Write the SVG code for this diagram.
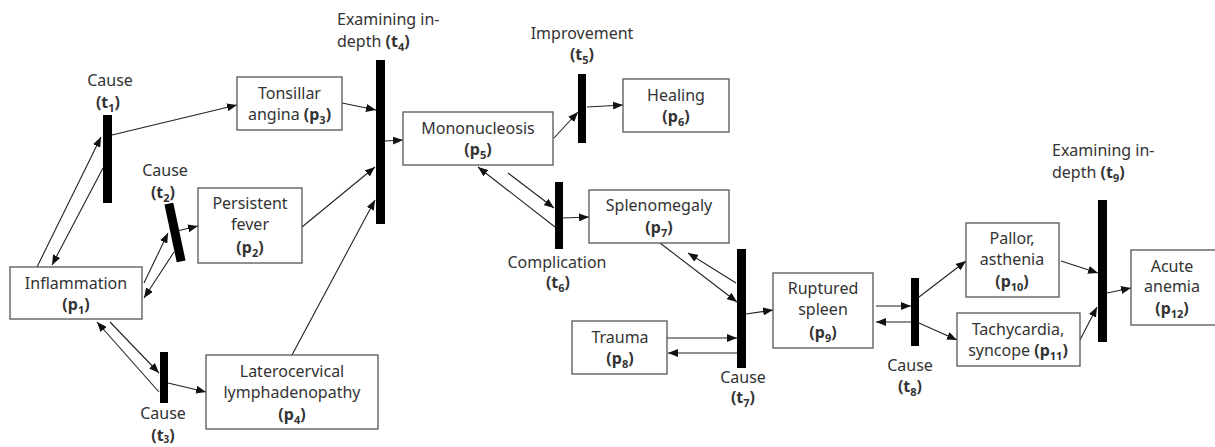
<svg xmlns="http://www.w3.org/2000/svg" width="1215" height="447" viewBox="0 0 1215 447">
<style>
.box{fill:#fff;stroke:#555;stroke-width:1.3}
.bar{fill:#000}
text{font-family:"Noto Sans","Open Sans",sans-serif;font-size:16px;fill:#333}
.c{text-anchor:middle}
.b{font-weight:bold}
.e{stroke:#222;stroke-width:1.1;fill:none;marker-end:url(#ah)}
</style>
<defs>
<marker id="ah" viewBox="0 0 10 8" refX="10" refY="4" markerWidth="10" markerHeight="8" markerUnits="userSpaceOnUse" orient="auto">
<path d="M0,0 L10,4 L0,8 z" fill="#111"/>
</marker>
</defs>
<g id="connectors">
<line class="e" x1="37" y1="267" x2="101" y2="137"/>
<line class="e" x1="103" y1="168" x2="52" y2="265"/>
<line class="e" x1="112" y1="135" x2="237" y2="105"/>
<line class="e" x1="144" y1="283" x2="168" y2="233"/>
<line class="e" x1="174" y1="252" x2="144" y2="298"/>
<line class="e" x1="177" y1="231" x2="198" y2="226"/>
<line class="e" x1="110" y1="322" x2="159" y2="373"/>
<line class="e" x1="159" y1="392" x2="97" y2="322"/>
<line class="e" x1="168" y1="383" x2="206" y2="392"/>
<line class="e" x1="342" y1="103" x2="376" y2="110"/>
<line class="e" x1="302" y1="227" x2="375" y2="167"/>
<line class="e" x1="292" y1="355" x2="375" y2="200"/>
<line class="e" x1="385" y1="141" x2="403" y2="140"/>
<line class="e" x1="554" y1="138" x2="578" y2="112"/>
<line class="e" x1="587" y1="107" x2="623" y2="105"/>
<line class="e" x1="508" y1="173" x2="554" y2="208"/>
<line class="e" x1="555" y1="227" x2="478" y2="167"/>
<line class="e" x1="563" y1="218" x2="589" y2="217"/>
<line class="e" x1="660" y1="243" x2="737" y2="302"/>
<line class="e" x1="736" y1="283" x2="688" y2="253"/>
<line class="e" x1="746" y1="314" x2="773" y2="310"/>
<line class="e" x1="667" y1="338" x2="737" y2="338"/>
<line class="e" x1="737" y1="353" x2="668" y2="353"/>
<line class="e" x1="876" y1="306" x2="911" y2="306"/>
<line class="e" x1="911" y1="322" x2="876" y2="322"/>
<line class="e" x1="919" y1="297" x2="966" y2="261"/>
<line class="e" x1="919" y1="323" x2="957" y2="340"/>
<line class="e" x1="1061" y1="261" x2="1098" y2="273"/>
<line class="e" x1="1080" y1="340" x2="1097" y2="307"/>
<line class="e" x1="1107" y1="293" x2="1131" y2="288"/>
</g>
<g id="t1"><rect class="bar" x="103" y="115" width="9" height="88"/>
<text class="c" x="110" y="86">Cause</text><text class="c b" x="108" y="108">(t<tspan font-size="11" dy="4">1</tspan><tspan dy="-4">)</tspan></text></g>
<g id="t2"><rect class="bar" x="170.5" y="203" width="9" height="59" transform="rotate(-12 175 232.5)"/>
<text class="c" x="165" y="176">Cause</text><text class="c b" x="163" y="198">(t<tspan font-size="11" dy="4">2</tspan><tspan dy="-4">)</tspan></text></g>
<g id="t3"><rect class="bar" x="160" y="352" width="8" height="51"/>
<text class="c" x="163" y="419">Cause</text><text class="c b" x="163" y="441">(t<tspan font-size="10" dy="2">3</tspan><tspan dy="-2">)</tspan></text></g>
<g id="t4"><rect class="bar" x="376" y="60" width="9" height="164"/>
<text x="337" y="25">Examining in-</text><text x="337" y="47">depth <tspan class="b">(t<tspan font-size="11" dy="4">4</tspan><tspan dy="-4">)</tspan></tspan></text></g>
<g id="t5"><rect class="bar" x="578" y="74" width="8" height="69"/>
<text class="c" x="582" y="39">Improvement</text><text class="c b" x="582" y="60">(t<tspan font-size="11" dy="4">5</tspan><tspan dy="-4">)</tspan></text></g>
<g id="t6"><rect class="bar" x="555" y="182" width="8" height="67"/>
<text class="c" x="557" y="268">Complication</text><text class="c b" x="558" y="288">(t<tspan font-size="11" dy="4">6</tspan><tspan dy="-4">)</tspan></text></g>
<g id="t7"><rect class="bar" x="737" y="249" width="9" height="119"/>
<text class="c" x="743" y="383">Cause</text><text class="c b" x="743" y="403">(t<tspan font-size="11" dy="4">7</tspan><tspan dy="-4">)</tspan></text></g>
<g id="t8"><rect class="bar" x="911" y="278" width="8" height="68"/>
<text class="c" x="910" y="371">Cause</text><text class="c b" x="910" y="392">(t<tspan font-size="11" dy="4">8</tspan><tspan dy="-4">)</tspan></text></g>
<g id="t9"><rect class="bar" x="1098" y="200" width="9" height="142"/>
<text x="1052" y="156">Examining in-</text><text x="1052" y="178">depth <tspan class="b">(t<tspan font-size="11" dy="4">9</tspan><tspan dy="-4">)</tspan></tspan></text></g>
<g id="p1"><rect class="box" x="10" y="267" width="132" height="52"/>
<text class="c" x="76" y="289">Inflammation</text><text class="c b" x="76" y="310">(p<tspan font-size="11" dy="4">1</tspan><tspan dy="-4">)</tspan></text></g>
<g id="p2"><rect class="box" x="198" y="188" width="104" height="75"/>
<text class="c" x="250" y="209">Persistent</text><text class="c" x="250" y="230">fever</text><text class="c b" x="250" y="253">(p<tspan font-size="11" dy="4">2</tspan><tspan dy="-4">)</tspan></text></g>
<g id="p3"><rect class="box" x="237" y="77" width="105" height="53"/>
<text class="c" x="289.5" y="99">Tonsillar</text><text class="c" x="289.5" y="120">angina <tspan class="b">(p<tspan font-size="11" dy="4">3</tspan><tspan dy="-4">)</tspan></tspan></text></g>
<g id="p4"><rect class="box" x="206" y="355" width="172" height="74"/>
<text class="c" x="292" y="377">Laterocervical</text><text class="c" x="292" y="398">lymphadenopathy</text><text class="c b" x="292" y="420">(p<tspan font-size="11" dy="4">4</tspan><tspan dy="-4">)</tspan></text></g>
<g id="p5"><rect class="box" x="403" y="112" width="150" height="53"/>
<text class="c" x="478" y="134">Mononucleosis</text><text class="c b" x="478" y="155">(p<tspan font-size="11" dy="4">5</tspan><tspan dy="-4">)</tspan></text></g>
<g id="p6"><rect class="box" x="623" y="79" width="106" height="53"/>
<text class="c" x="676" y="101">Healing</text><text class="c b" x="676" y="122">(p<tspan font-size="11" dy="4">6</tspan><tspan dy="-4">)</tspan></text></g>
<g id="p7"><rect class="box" x="589" y="190" width="140" height="53"/>
<text class="c" x="659" y="211">Splenomegaly</text><text class="c b" x="659" y="233">(p<tspan font-size="11" dy="4">7</tspan><tspan dy="-4">)</tspan></text></g>
<g id="p8"><rect class="box" x="572" y="321" width="95" height="53"/>
<text class="c" x="620" y="343">Trauma</text><text class="c b" x="620" y="364">(p<tspan font-size="11" dy="4">8</tspan><tspan dy="-4">)</tspan></text></g>
<g id="p9"><rect class="box" x="773" y="273" width="100" height="75"/>
<text class="c" x="823" y="294">Ruptured</text><text class="c" x="823" y="315">spleen</text><text class="c b" x="823" y="338">(p<tspan font-size="11" dy="4">9</tspan><tspan dy="-4">)</tspan></text></g>
<g id="p10"><rect class="box" x="966" y="223" width="93" height="74"/>
<text class="c" x="1012" y="244">Pallor,</text><text class="c" x="1012" y="265">asthenia</text><text class="c b" x="1012" y="287">(p<tspan font-size="11" dy="4">10</tspan><tspan dy="-4">)</tspan></text></g>
<g id="p11"><rect class="box" x="957" y="313" width="123" height="53"/>
<text class="c" x="1018" y="335">Tachycardia,</text><text class="c" x="1018" y="356">syncope <tspan class="b">(p<tspan font-size="11" dy="4">11</tspan><tspan dy="-4">)</tspan></tspan></text></g>
<g id="p12"><rect class="box" x="1131" y="250" width="90" height="75"/>
<text class="c" x="1172" y="272">Acute</text><text class="c" x="1172" y="292">anemia</text><text class="c b" x="1172" y="314">(p<tspan font-size="11" dy="4">12</tspan><tspan dy="-4">)</tspan></text></g>
</svg>
